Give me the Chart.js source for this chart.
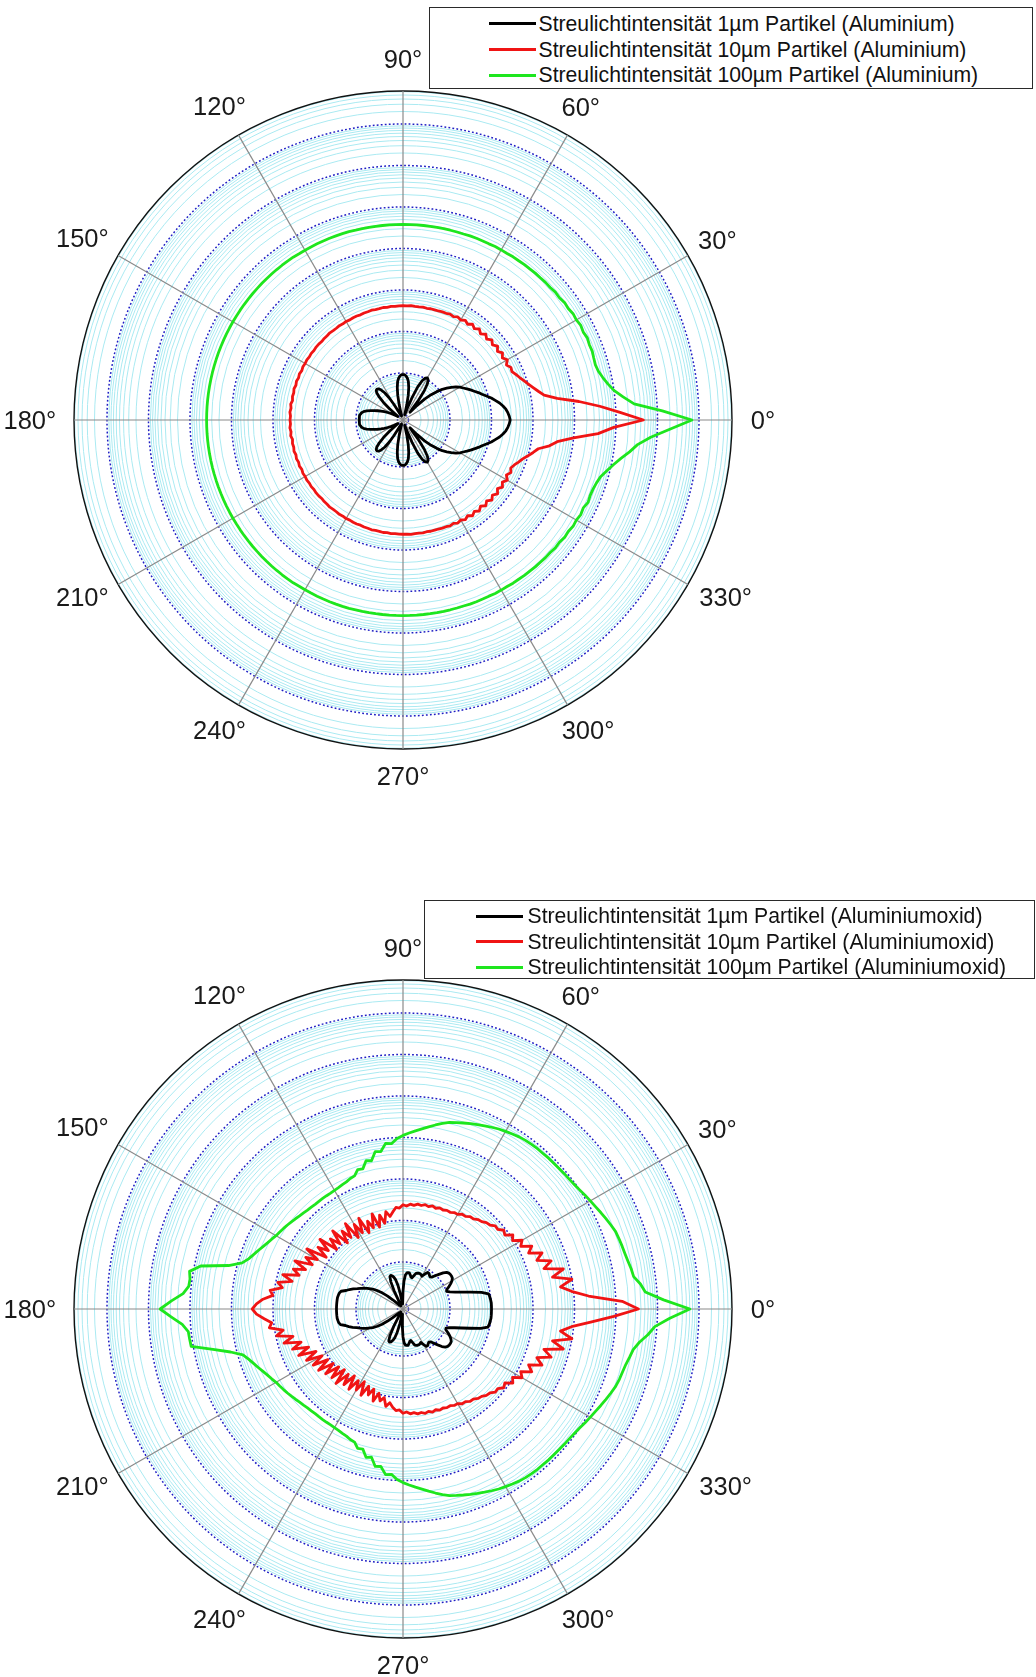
<!DOCTYPE html>
<html>
<head>
<meta charset="utf-8">
<script src="https://cdn.jsdelivr.net/npm/chart.js@4.4.1/dist/chart.umd.min.js"></script>
<style>
  html, body { margin: 0; padding: 0; background: #fff; }
  body { width: 1036px; height: 1677px; position: relative; overflow: hidden;
         font-family: "Liberation Sans", Arial, sans-serif; }
  canvas { position: absolute; left: 0; }
  .legend { position: absolute; background: #fff; border: 1.6px solid #2a2a2a; box-sizing: border-box; }
  .legend .swatch { position: absolute; height: 3px; width: 47px; }
  .legend .txt { position: absolute; font-size: 21.2px; line-height: 26px; color: #111; white-space: nowrap; }
</style>
</head>
<body>
<canvas id="c1" width="1036" height="840" style="top:0px"></canvas>
<canvas id="c2" width="1036" height="837" style="top:840px"></canvas>
<div id="lg1" class="legend"></div>
<div id="lg2" class="legend"></div>
<script>
// Scattering angle in degrees, 2° steps, counter-clockwise from 0° (forward direction)
const angles = [];
for (let a = 0; a < 360; a += 2) angles.push(a);

// Angle labels around the rim
const angleTicks = [0, 30, 60, 90, 120, 150, 180, 210, 240, 270, 300, 330];
// small per-label placement adjustments [dx, dy] in px
const labelNudge = [[2, 4], [-1, 6], [-3, 4], [0, 1], [-1, 6.5], [0, 7.5],
                    [-1, 4], [0, -4], [-1, -2], [0, 2], [2.5, -2], [2, -4]];

// Radial axis: log10 of the relative scattered intensity (decades 10^0 ... 10^7)
const decades = [0, 1, 2, 3, 4, 5, 6, 7];
const minorMantissas = [2, 3, 4, 5, 6, 7, 8, 9];
const lgMin = -0.1325;
const lgMax = 7.795;

// ---- Aluminium (log10 intensity, one value per angle) ----
const al1 = [
  2.45, 2.43, 2.40, 2.36, 2.30, 2.23, 2.14, 2.06, 1.96, 1.87,
  1.80, 1.72, 1.65, 1.58, 1.51, 1.45, 1.37, 1.27, 1.17, 1.07,
  0.93, 0.78, 0.59, 0.35, 0.12, 0.20, 0.48, 0.74, 0.92, 1.01,
  1.04, 1.01, 0.92, 0.74, 0.45, 0.15, 0.00, 0.06, 0.25, 0.48,
  0.66, 0.80, 0.88, 0.93, 0.96, 0.96, 0.96, 0.93, 0.88, 0.80,
  0.66, 0.48, 0.25, 0.06, -0.02, -0.03, -0.02, 0.00, 0.03, 0.10,
  0.30, 0.50, 0.66, 0.76, 0.82, 0.84, 0.83, 0.78, 0.66, 0.50,
  0.30, 0.12, 0.03, 0.02, 0.06, 0.12, 0.20, 0.28, 0.36, 0.44,
  0.52, 0.60, 0.68, 0.77, 0.84, 0.88, 0.90, 0.92, 0.92, 0.92,
  0.92,
  0.92, 0.92, 0.92, 0.90, 0.88, 0.84, 0.77, 0.68, 0.60, 0.52,
  0.44, 0.36, 0.28, 0.20, 0.12, 0.06, 0.02, 0.03, 0.12, 0.30,
  0.50, 0.66, 0.78, 0.83, 0.84, 0.82, 0.76, 0.66, 0.50, 0.30,
  0.10, 0.03, 0.00, -0.02, -0.03, -0.02, 0.06, 0.25, 0.48, 0.66,
  0.80, 0.88, 0.93, 0.96, 0.96, 0.96, 0.93, 0.88, 0.80, 0.66,
  0.48, 0.25, 0.06, 0.00, 0.15, 0.45, 0.74, 0.92, 1.01, 1.04,
  1.01, 0.92, 0.74, 0.48, 0.20, 0.12, 0.35, 0.59, 0.78, 0.93,
  1.07, 1.17, 1.27, 1.37, 1.45, 1.51, 1.58, 1.65, 1.72, 1.80,
  1.87, 1.96, 2.06, 2.14, 2.23, 2.30, 2.36, 2.40, 2.43
];

const al10 = [
  5.66, 5.10, 4.62, 4.13, 3.62, 3.32, 3.20, 3.10, 3.01, 2.93,
  2.86, 2.80, 2.74, 2.76, 2.69, 2.77, 2.69, 2.76, 2.68, 2.76,
  2.68, 2.75, 2.67, 2.74, 2.66, 2.73, 2.66, 2.72, 2.65, 2.70,
  2.65, 2.68, 2.64, 2.66, 2.64, 2.64, 2.63, 2.63, 2.63, 2.62,
  2.63, 2.62, 2.62, 2.63, 2.62, 2.62, 2.62, 2.61, 2.62, 2.61,
  2.62, 2.61, 2.61, 2.62, 2.61, 2.61, 2.60, 2.61, 2.61, 2.60,
  2.61, 2.60, 2.61, 2.60, 2.60, 2.61, 2.60, 2.60, 2.59, 2.60,
  2.60, 2.59, 2.60, 2.59, 2.60, 2.59, 2.60, 2.58, 2.60, 2.58,
  2.60, 2.58, 2.60, 2.58, 2.59, 2.57, 2.60, 2.58, 2.60, 2.58,
  2.59,
  2.58, 2.60, 2.58, 2.60, 2.57, 2.59, 2.58, 2.60, 2.58,
  2.60, 2.58, 2.60, 2.58, 2.60, 2.59, 2.60, 2.59, 2.60, 2.59,
  2.60, 2.60, 2.59, 2.60, 2.60, 2.61, 2.60, 2.60, 2.61, 2.60,
  2.61, 2.60, 2.61, 2.61, 2.60, 2.61, 2.61, 2.62, 2.61, 2.61,
  2.62, 2.61, 2.62, 2.61, 2.62, 2.62, 2.62, 2.63, 2.62, 2.62,
  2.63, 2.62, 2.63, 2.63, 2.63, 2.64, 2.64, 2.66, 2.64, 2.68,
  2.65, 2.70, 2.65, 2.72, 2.66, 2.73, 2.66, 2.74, 2.67, 2.75,
  2.68, 2.76, 2.68, 2.76, 2.69, 2.77, 2.69, 2.76, 2.71, 2.76,
  2.83, 2.90, 3.00, 3.10, 3.20, 3.45, 3.62, 4.00, 4.58, 4.95
];

const al100 = [
  6.83, 6.12, 5.45, 5.20, 5.00, 4.88, 4.79, 4.72, 4.69, 4.70,
  4.72, 4.71, 4.73, 4.70, 4.72, 4.69, 4.70, 4.67, 4.68, 4.65,
  4.66, 4.64, 4.64, 4.63, 4.63, 4.62, 4.62, 4.61, 4.61, 4.60,
  4.60, 4.60, 4.59, 4.59, 4.59, 4.59, 4.58, 4.58, 4.58, 4.58,
  4.58, 4.58, 4.58, 4.58, 4.58, 4.58, 4.58, 4.58, 4.58, 4.58,
  4.58, 4.58, 4.58, 4.59, 4.59, 4.59, 4.59, 4.59, 4.59, 4.59,
  4.59, 4.59, 4.60, 4.60, 4.60, 4.60, 4.60, 4.60, 4.60, 4.60,
  4.60, 4.60, 4.60, 4.60, 4.60, 4.60, 4.60, 4.60, 4.60, 4.60,
  4.60, 4.60, 4.60, 4.60, 4.60, 4.60, 4.60, 4.60, 4.60, 4.60,
  4.60,
  4.60, 4.60, 4.60, 4.60, 4.60, 4.60, 4.60, 4.60, 4.60,
  4.60, 4.60, 4.60, 4.60, 4.60, 4.60, 4.60, 4.60, 4.60, 4.60,
  4.60, 4.60, 4.60, 4.60, 4.60, 4.60, 4.60, 4.60, 4.60, 4.59,
  4.59, 4.59, 4.59, 4.59, 4.59, 4.59, 4.59, 4.59, 4.58, 4.58,
  4.58, 4.58, 4.58, 4.58, 4.58, 4.58, 4.58, 4.58, 4.58, 4.58,
  4.58, 4.58, 4.58, 4.58, 4.58, 4.59, 4.59, 4.59, 4.59, 4.60,
  4.60, 4.60, 4.61, 4.61, 4.62, 4.62, 4.63, 4.63, 4.64, 4.64,
  4.66, 4.65, 4.68, 4.67, 4.70, 4.69, 4.72, 4.70, 4.75, 4.73,
  4.74, 4.77, 4.82, 4.93, 5.05, 5.20, 5.38, 5.55, 5.85, 6.30
];

// ---- Aluminiumoxid (log10 intensity, one value per angle) ----
const ox1 = [
  2.00, 2.00, 2.00, 1.99, 1.98, 1.96, 1.80, 1.55, 1.35, 1.19,
  1.07, 1.00, 1.02, 1.10, 1.17, 1.23, 1.27, 1.28, 1.28, 1.27,
  1.24, 1.17, 1.07, 0.98, 0.90, 0.88, 0.90, 0.93, 0.93, 0.86,
  0.78, 0.80, 0.81, 0.81, 0.80, 0.78, 0.71, 0.65, 0.66, 0.71,
  0.75, 0.75, 0.74, 0.69, 0.54, 0.30, 0.06, -0.01, -0.01, 0.06,
  0.23, 0.45, 0.59, 0.66, 0.71, 0.73, 0.71, 0.59, 0.35, 0.06,
  -0.01, -0.04, -0.04, -0.04, -0.03, -0.02, -0.01, 0.01, 0.06, 0.20,
  0.35, 0.49, 0.61, 0.71, 0.78, 0.86, 0.93, 1.00, 1.07, 1.16,
  1.24, 1.31, 1.42, 1.45, 1.46, 1.47, 1.47, 1.47, 1.47, 1.47,
  1.47,
  1.47, 1.47, 1.47, 1.47, 1.46, 1.45, 1.42, 1.31, 1.24,
  1.16, 1.07, 1.00, 0.93, 0.86, 0.78, 0.71, 0.61, 0.49, 0.35,
  0.20, 0.06, 0.01, -0.01, -0.02, -0.03, -0.04, -0.04, -0.04, -0.01,
  0.06, 0.35, 0.59, 0.71, 0.73, 0.71, 0.66, 0.59, 0.45, 0.23,
  0.06, -0.01, -0.01, 0.06, 0.30, 0.54, 0.69, 0.74, 0.75, 0.75,
  0.71, 0.66, 0.65, 0.71, 0.78, 0.80, 0.81, 0.81, 0.80, 0.78,
  0.86, 0.93, 0.93, 0.90, 0.88, 0.90, 0.98, 1.07, 1.17, 1.24,
  1.27, 1.28, 1.28, 1.27, 1.23, 1.17, 1.10, 1.02, 1.00, 1.07,
  1.19, 1.35, 1.55, 1.80, 1.96, 1.98, 1.99, 2.00, 2.00, 2.00
];

const ox10 = [
  5.54, 5.15, 4.35, 3.95, 3.70, 4.00, 3.55, 3.85, 3.40, 3.62,
  3.30, 3.48, 3.18, 3.32, 3.08, 3.18, 2.98, 3.06, 2.90, 2.95,
  2.85, 2.86, 2.78, 2.76, 2.70, 2.68, 2.62, 2.62, 2.56, 2.56,
  2.50, 2.50, 2.46, 2.47, 2.44, 2.46, 2.42, 2.45, 2.41, 2.44,
  2.40, 2.42, 2.38, 2.40, 2.35, 2.38, 2.30, 2.32, 2.22, 2.12,
  2.25, 1.98, 2.20, 1.92, 2.28, 1.95, 2.15, 1.88, 2.30, 1.95,
  2.22, 1.90, 2.35, 2.00, 2.25, 1.95, 2.40, 2.05, 2.30, 2.02,
  2.48, 2.15, 2.40, 2.10, 2.60, 2.25, 2.52, 2.30, 2.72, 2.40,
  2.68, 2.50, 2.88, 2.62, 2.95, 2.82, 3.10, 3.02, 3.25, 3.40,
  3.50,
  3.40, 3.22, 3.05, 3.12, 2.80, 2.98, 2.60, 2.85, 2.45, 2.70,
  2.32, 2.62, 2.20, 2.50, 2.12, 2.42, 2.05, 2.38, 2.00, 2.30,
  1.95, 2.25, 1.90, 2.28, 1.92, 2.18, 1.86, 2.20, 1.90, 2.12,
  1.85, 2.18, 1.90, 2.10, 1.92, 2.20, 1.98, 2.15, 2.05, 2.25,
  2.15, 2.25, 2.32, 2.30,
  2.38, 2.35, 2.40, 2.38, 2.42, 2.40, 2.44, 2.41, 2.45, 2.42,
  2.46, 2.44, 2.47, 2.46, 2.50, 2.50, 2.56, 2.56, 2.62, 2.62,
  2.68, 2.70, 2.76, 2.78, 2.86, 2.85, 2.95, 2.90, 3.06, 2.98,
  3.18, 3.08, 3.32, 3.18, 3.48, 3.30, 3.62, 3.40, 3.85, 3.55,
  4.00, 3.70, 3.95, 4.40, 4.95
];

const ox100 = [
  6.78, 6.15, 5.72, 5.62, 5.48, 5.45, 5.41, 5.38, 5.36, 5.34,
  5.32, 5.27, 5.22, 5.17, 5.12, 5.08, 5.04, 5.00, 4.97, 4.95,
  4.94, 4.93, 4.92, 4.92, 4.91, 4.91, 4.90, 4.89, 4.87, 4.84,
  4.81, 4.78, 4.74, 4.70, 4.66, 4.62, 4.58, 4.54, 4.50, 4.44,
  4.37, 4.30, 4.23, 4.17, 4.11, 4.05, 3.98, 3.86, 3.88, 3.70,
  3.72, 3.52, 3.55, 3.38, 3.40, 3.28, 3.26, 3.22, 3.20, 3.18,
  3.17, 3.16, 3.16, 3.16, 3.16, 3.16, 3.17, 3.18, 3.20, 3.22,
  3.25, 3.28, 3.31, 3.34, 3.37, 3.40, 3.45, 3.50, 3.56, 3.63,
  3.70, 3.78, 3.90, 4.20, 4.85, 5.09, 5.05, 5.06, 5.18, 5.45,
  5.72,
  5.45, 5.20, 5.07, 5.06, 5.05, 4.55, 4.15, 3.88, 3.78,
  3.70, 3.63, 3.56, 3.50, 3.45, 3.40, 3.37, 3.34, 3.31, 3.28, 3.25,
  3.22, 3.20, 3.18, 3.17, 3.16, 3.16, 3.16, 3.16, 3.16, 3.17,
  3.18, 3.20, 3.22, 3.26, 3.28, 3.40, 3.38, 3.55, 3.52, 3.72,
  3.70, 3.88, 3.86, 3.98, 4.05, 4.11, 4.17, 4.23, 4.30, 4.37,
  4.44, 4.50, 4.54, 4.58, 4.62, 4.66, 4.70, 4.74, 4.78, 4.81,
  4.84, 4.87, 4.89, 4.90, 4.91, 4.91, 4.92, 4.92, 4.93, 4.94,
  4.95, 4.97, 5.00, 5.04, 5.08, 5.12, 5.17, 5.22, 5.27, 5.32,
  5.35, 5.37, 5.40, 5.45, 5.50, 5.62, 5.80, 5.95, 6.30
];

const seriesColors = ['#000000', '#f01414', '#1ee61e'];
const labelsAl = [
  'Streulichtintensität 1µm Partikel (Aluminium)',
  'Streulichtintensität 10µm Partikel (Aluminium)',
  'Streulichtintensität 100µm Partikel (Aluminium)'
];
const labelsOx = [
  'Streulichtintensität 1µm Partikel (Aluminiumoxid)',
  'Streulichtintensität 10µm Partikel (Aluminiumoxid)',
  'Streulichtintensität 100µm Partikel (Aluminiumoxid)'
];

// The radar scale runs clockwise from its start angle, so the
// counter-clockwise angle series are read in reverse order.
const N = angles.length;
const chartLabels = angles.map((a, i) => angles[(N - i) % N]);
const toChartOrder = arr => angles.map((a, i) => arr[(N - i) % N]);

// Ring set of the logarithmic radial grid
function radialTicks() {
  const t = [];
  decades.forEach(d => {
    t.push({ value: d, kind: 'decade' });
    minorMantissas.forEach(m => {
      const v = d + Math.log10(m);
      if (v < lgMax) t.push({ value: v, kind: 'minor' });
    });
  });
  t.push({ value: lgMax, kind: 'edge' });
  return t.sort((a, b) => a.value - b.value);
}

const gridColor = { decade: '#1e1ec4', minor: 'rgb(170,234,242)', edge: '#111111' };
const gridWidth = { decade: 1.5, minor: 1, edge: 1.4 };

const angleLabelPlugin = {
  id: 'angleLabels',
  afterDraw(chart) {
    const s = chart.scales.r;
    const ctx = chart.ctx;
    ctx.save();
    ctx.font = '25.5px "Liberation Sans", Arial, sans-serif';
    ctx.fillStyle = '#1a1a1a';
    ctx.textAlign = 'center';
    ctx.textBaseline = 'middle';
    const w0 = ctx.measureText('0°').width;
    angleTicks.forEach((deg, k) => {
      const txt = deg + '°';
      const w = ctx.measureText(txt).width;
      const rad = deg * Math.PI / 180;
      const d = s.drawingArea + 29 + Math.abs(Math.cos(rad)) * (w - w0) / 2;
      const idx = ((360 - deg) % 360) / 2;
      const p = s.getPointPosition(idx, d);
      ctx.fillText(txt, p.x + labelNudge[k][0], p.y - 2 + labelNudge[k][1]);
    });
    ctx.restore();
  }
};

function makeChart(id, series, names, padding) {
  const order = [2, 1, 0]; // draw the 1µm curve last so it stays on top
  return new Chart(document.getElementById(id), {
    type: 'radar',
    data: {
      labels: chartLabels,
      datasets: order.map(k => ({
        label: names[k],
        data: toChartOrder(series[k]),
        borderColor: seriesColors[k],
        borderWidth: 2.8,
        fill: false,
        pointRadius: 0,
        borderJoinStyle: 'round'
      }))
    },
    options: {
      responsive: false,
      animation: false,
      devicePixelRatio: 1,
      events: [],
      layout: { padding },
      plugins: { legend: { display: false }, tooltip: { enabled: false } },
      elements: { line: { tension: 0 } },
      scales: {
        r: {
          min: lgMin,
          max: lgMax,
          startAngle: 90,
          afterBuildTicks: scale => { scale.ticks = radialTicks(); },
          ticks: { display: false },
          pointLabels: { display: false },
          grid: {
            circular: true,
            color: c => (c.tick ? gridColor[c.tick.kind] : '#111'),
            lineWidth: c => (c.tick ? gridWidth[c.tick.kind] : 1)
          },
          border: {
            dash: c => (c.tick && c.tick.kind === 'decade' ? [1.8, 2.2] : [])
          },
          angleLines: {
            color: '#8a8a8a',
            lineWidth: c => (c.index % 15 === 0 ? 1.2 : 0)
          }
        }
      }
    },
    plugins: [angleLabelPlugin]
  });
}

makeChart('c1', [al1, al10, al100], labelsAl, { left: 74, top: 91, right: 304, bottom: 91 });
makeChart('c2', [ox1, ox10, ox100], labelsOx, { left: 74, top: 140, right: 304, bottom: 39 });

function buildLegend(el, box, names) {
  el.style.left = box.left + 'px';
  el.style.top = box.top + 'px';
  el.style.width = box.width + 'px';
  el.style.height = box.height + 'px';
  names.forEach((name, k) => {
    const cy = box.firstRow + k * box.rowGap - box.top - 1.6;
    const sw = document.createElement('div');
    sw.className = 'swatch';
    sw.style.left = box.swatchLeft + 'px';
    sw.style.top = (cy - 1.5) + 'px';
    sw.style.background = seriesColors[k];
    const tx = document.createElement('div');
    tx.className = 'txt';
    tx.style.left = box.textLeft + 'px';
    tx.style.top = (cy - 13) + 'px';
    tx.textContent = name;
    el.appendChild(sw);
    el.appendChild(tx);
  });
}

buildLegend(document.getElementById('lg1'),
  { left: 429, top: 7, width: 604, height: 82, firstRow: 24.5, rowGap: 25.65, swatchLeft: 58.5, textLeft: 108.5 },
  labelsAl);
buildLegend(document.getElementById('lg2'),
  { left: 424, top: 900, width: 611, height: 79, firstRow: 917, rowGap: 25.3, swatchLeft: 50.5, textLeft: 102.5 },
  labelsOx);
</script>
</body>
</html>
